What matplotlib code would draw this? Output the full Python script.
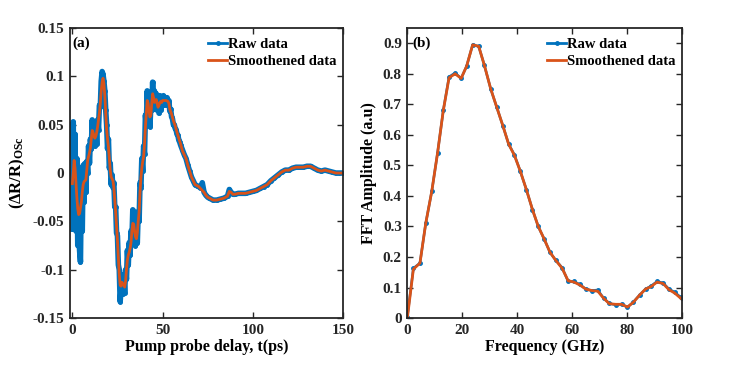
import numpy as np
import matplotlib
matplotlib.use("Agg")
from matplotlib import pyplot as plt

plt.rcParams['font.family'] = ['Liberation Serif', 'DejaVu Serif']
plt.rcParams['font.weight'] = 'bold'
plt.rcParams['mathtext.fontset'] = 'custom'
plt.rcParams['mathtext.rm'] = 'Liberation Serif:bold'
plt.rcParams['mathtext.it'] = 'Liberation Serif:bold'
plt.rcParams['mathtext.bf'] = 'Liberation Serif:bold'

BLUE = '#0072BD'
ORANGE = '#D95319'

# ---- panel (a): time domain oscillation ----
t_raw_early = [i * 0.5 for i in range(121)]
v_raw_early = [
    -0.058, 0.053, -0.05, 0.04, -0.06, 0.015, -0.075, -0.01, -0.08, -0.092,
    -0.005, -0.06, 0.008, -0.03, 0.01, -0.02, 0.012, 0.0, 0.028, 0.01,
    0.035, 0.025, 0.055, 0.03, 0.05, 0.028, 0.048, 0.03, 0.055, 0.045,
    0.07, 0.068, 0.095, 0.105, 0.102, 0.095, 0.085, 0.065, 0.05, 0.025,
    0.035, 0.005, 0.01, -0.012, -0.002, -0.015, -0.01, -0.035, -0.035, -0.062,
    -0.065, -0.095, -0.1, -0.133, -0.12, -0.105, -0.125, -0.108, -0.124, -0.1,
    -0.11, -0.08, -0.095, -0.072, -0.085, -0.06, -0.07, -0.038, -0.06, -0.045,
    -0.075, -0.058, -0.072, -0.04, -0.05, -0.01, -0.015, 0.015, 0.002, 0.028,
    0.02, 0.06, 0.05, 0.085, 0.06, 0.08, 0.048, 0.07, 0.065, 0.094,
    0.07, 0.085, 0.066, 0.082, 0.065, 0.078, 0.062, 0.08, 0.065, 0.078,
    0.07, 0.08, 0.07, 0.078, 0.072, 0.078, 0.07, 0.075, 0.064, 0.066,
    0.058, 0.056, 0.05, 0.05, 0.046, 0.045, 0.04, 0.039, 0.034, 0.032,
    0.029]

t_late = [61, 62, 63, 64, 65, 66, 67, 68, 69, 70, 71, 72, 73, 74, 75, 76, 78,
          80, 82, 84, 86, 87, 88, 89, 90, 92, 94, 96, 98, 100, 102, 104, 106,
          108, 110, 112, 114, 116, 118, 120, 122, 124, 126, 128, 130, 132, 134,
          136, 138, 140, 142, 144, 146, 148, 150]
v_raw_late = [0.024, 0.019, 0.015, 0.008, 0.002, -0.004, -0.008, -0.012,
              -0.013, -0.014, -0.015, -0.01, -0.02, -0.023, -0.025, -0.026,
              -0.028, -0.028, -0.027, -0.026, -0.024, -0.017, -0.02, -0.022,
              -0.022, -0.021, -0.021, -0.021, -0.02, -0.019, -0.018, -0.016,
              -0.014, -0.012, -0.008, -0.005, -0.002, 0.001, 0.003, 0.003,
              0.005, 0.006, 0.006, 0.006, 0.007, 0.007, 0.005, 0.003, 0.002,
              0.003, 0.002, 0.001, 0.0, 0.0, 0.0]

t_smooth = [0, 0.5, 1, 1.5, 2, 2.5, 3, 3.5, 4, 4.5, 5, 5.5, 6, 6.5, 7, 7.5, 8,
            8.5, 9, 9.5, 10, 10.5, 11, 11.5, 12, 12.5, 13, 13.5, 14, 14.5, 15,
            15.5, 16, 16.5, 17, 17.5, 18, 18.5, 19, 19.5, 20, 20.5, 21, 21.5,
            22, 22.5, 23, 23.5, 24, 24.5, 25, 25.5, 26, 26.5, 27, 27.5, 28,
            28.5, 29, 29.5, 30, 30.5, 31, 31.5, 32, 32.5, 33, 33.5, 34, 34.5,
            35, 35.5, 36, 36.5, 37, 37.5, 38, 38.5, 39, 39.5, 40, 40.5, 41,
            41.5, 42, 42.5, 43, 43.5, 44, 44.5, 45, 45.5, 46, 46.5, 47, 47.5,
            48, 48.5, 49, 49.5, 50, 51, 52, 53, 53.5, 54, 55, 56, 57, 58, 59,
            60] + t_late
v_smooth = [-0.011, 0.0, 0.013, 0.005, -0.01, -0.025, -0.037, -0.043, -0.042,
            -0.036, -0.03, -0.02, -0.012, -0.009, -0.008, -0.007, 0.003, 0.013,
            0.017, 0.021, 0.026, 0.035, 0.044, 0.042, 0.038, 0.036, 0.038,
            0.042, 0.048, 0.055, 0.062, 0.072, 0.085, 0.094, 0.098, 0.092,
            0.08, 0.062, 0.045, 0.035, 0.027, 0.015, 0.003, -0.004, -0.006,
            -0.008, -0.015, -0.027, -0.04, -0.055, -0.07, -0.088, -0.105,
            -0.116, -0.117, -0.113, -0.115, -0.116, -0.118, -0.112, -0.1,
            -0.09, -0.085, -0.082, -0.078, -0.072, -0.06, -0.052, -0.053,
            -0.06, -0.066, -0.068, -0.062, -0.05, -0.04, -0.02, -0.005, 0.005,
            0.012, 0.017, 0.03, 0.048, 0.062, 0.075, 0.072, 0.064, 0.058, 0.06,
            0.072, 0.082, 0.078, 0.073, 0.074, 0.076, 0.072, 0.068, 0.07,
            0.073, 0.074, 0.073, 0.075, 0.075, 0.075, 0.074, 0.072, 0.066,
            0.061, 0.054, 0.049, 0.042, 0.036, 0.03,
            0.023, 0.019, 0.015, 0.008, 0.002, -0.004, -0.008, -0.012, -0.013,
            -0.014, -0.016, -0.018, -0.02, -0.023, -0.025, -0.026, -0.028,
            -0.028, -0.027, -0.026, -0.024, -0.019, -0.02, -0.022, -0.022,
            -0.021, -0.021, -0.021, -0.02, -0.019, -0.018, -0.016, -0.014,
            -0.012, -0.008, -0.005, -0.002, 0.001, 0.003, 0.003, 0.005, 0.006,
            0.006, 0.006, 0.007, 0.007, 0.005, 0.003, 0.002, 0.003, 0.002,
            0.001, 0.0, 0.0, 0.0]

# ---- panel (b): FFT amplitude ----
freq = [0, 2.2, 4.6, 6.7, 8.9, 11.0, 13.1, 15.2, 17.4, 19.6, 21.6, 23.8, 26.0,
        28.0, 30.4, 32.6, 34.8, 36.9, 39.0, 41.2, 43.4, 45.6, 47.7, 49.8, 52.0,
        54.0, 56.4, 58.6, 60.7, 62.9, 65.0, 67.2, 69.4, 71.5, 73.6, 75.9, 78.1,
        80.2, 82.4, 84.6, 86.8, 88.8, 91.0, 93.2, 95.3, 97.4, 99.6, 100]
fft_raw = [0.005, 0.163, 0.18, 0.31, 0.415, 0.54, 0.68, 0.79, 0.803, 0.785,
           0.825, 0.895, 0.89, 0.83, 0.75, 0.69, 0.63, 0.57, 0.535, 0.48, 0.42,
           0.355, 0.30, 0.26, 0.215, 0.19, 0.165, 0.12, 0.12, 0.11, 0.095,
           0.09, 0.092, 0.065, 0.048, 0.043, 0.046, 0.035, 0.053, 0.075, 0.095,
           0.105, 0.12, 0.115, 0.095, 0.085, 0.068, 0.065]
fft_smooth = [0.0, 0.16, 0.18, 0.31, 0.415, 0.54, 0.68, 0.787, 0.8, 0.785,
              0.825, 0.895, 0.89, 0.83, 0.75, 0.69, 0.63, 0.57, 0.533, 0.48,
              0.42, 0.355, 0.30, 0.26, 0.215, 0.19, 0.163, 0.122, 0.118, 0.108,
              0.095, 0.09, 0.088, 0.065, 0.047, 0.045, 0.045, 0.036, 0.052,
              0.075, 0.095, 0.103, 0.118, 0.113, 0.093, 0.082, 0.065, 0.062]

fig = plt.figure(figsize=(7.47, 3.66), dpi=100)
ax1 = fig.add_axes([0.0937, 0.131, 0.3655, 0.7925])
ax2 = fig.add_axes([0.5453, 0.131, 0.3674, 0.7925])

ax1.plot(t_raw_early + t_late, v_raw_early + v_raw_late, '.-', color=BLUE,
         lw=4.0, ms=5, label='Raw data')
ax1.plot(t_smooth, v_smooth, '-', color=ORANGE, lw=2.0, label='Smoothened data')
ax1.set_xlim(-1.3, 150)
ax1.set_ylim(-0.15, 0.15)
ax1.set_xticks([0, 50, 100, 150])
ax1.set_yticks([-0.15, -0.1, -0.05, 0, 0.05, 0.1, 0.15])
ax1.set_yticklabels(['-0.15', '-0.1', '-0.05', '0', '0.05', '0.1', '0.15'])
ax1.set_xlabel('Pump probe delay, t(ps)', fontsize=11.5, fontweight='bold', labelpad=2)
ax1.set_ylabel('(ΔR/R)$_{\\mathrm{OSc}}$', fontsize=12, fontweight='bold', labelpad=4)
ax1.text(0.01, 0.97, '(a)', transform=ax1.transAxes, fontsize=11,
         fontweight='bold', va='top', ha='left')

ax2.plot(freq, fft_raw, '.-', color=BLUE, lw=1.8, ms=5, label='Raw data')
ax2.plot(freq, fft_smooth, '-', color=ORANGE, lw=2.0, label='Smoothened data')
ax2.set_xlim(0, 100)
ax2.set_ylim(0, 0.95)
ax2.set_xticks([0, 20, 40, 60, 80, 100])
ax2.set_yticks([0, 0.1, 0.2, 0.3, 0.4, 0.5, 0.6, 0.7, 0.8, 0.9])
ax2.set_yticklabels(['0', '0.1', '0.2', '0.3', '0.4', '0.5', '0.6', '0.7', '0.8', '0.9'])
ax2.set_xlabel('Frequency (GHz)', fontsize=11.5, fontweight='bold', labelpad=2)
ax2.set_ylabel('FFT Amplitude (a.u)', fontsize=11.5, fontweight='bold', labelpad=4)
ax2.text(0.02, 0.97, '(b)', transform=ax2.transAxes, fontsize=11,
         fontweight='bold', va='top', ha='left')

for ax in (ax1, ax2):
    for s in ax.spines.values():
        s.set_linewidth(1.3)
        s.set_color('#262626')
    ax.tick_params(direction='in', length=4, width=1, labelsize=11,
                   top=True, right=True, colors='#262626', pad=4)
    for lab in ax.get_xticklabels() + ax.get_yticklabels():
        lab.set_fontweight('bold')
    leg = ax.legend(loc='upper right', bbox_to_anchor=(1.0, 0.99), frameon=False,
                    handlelength=1.3, handletextpad=0.05, borderaxespad=0.05,
                    labelspacing=0.3, prop={'weight': 'bold', 'size': 10.5})
    for h in leg.legend_handles:
        h.set_linewidth(2.0)

fig.savefig('out.png', dpi=100)
